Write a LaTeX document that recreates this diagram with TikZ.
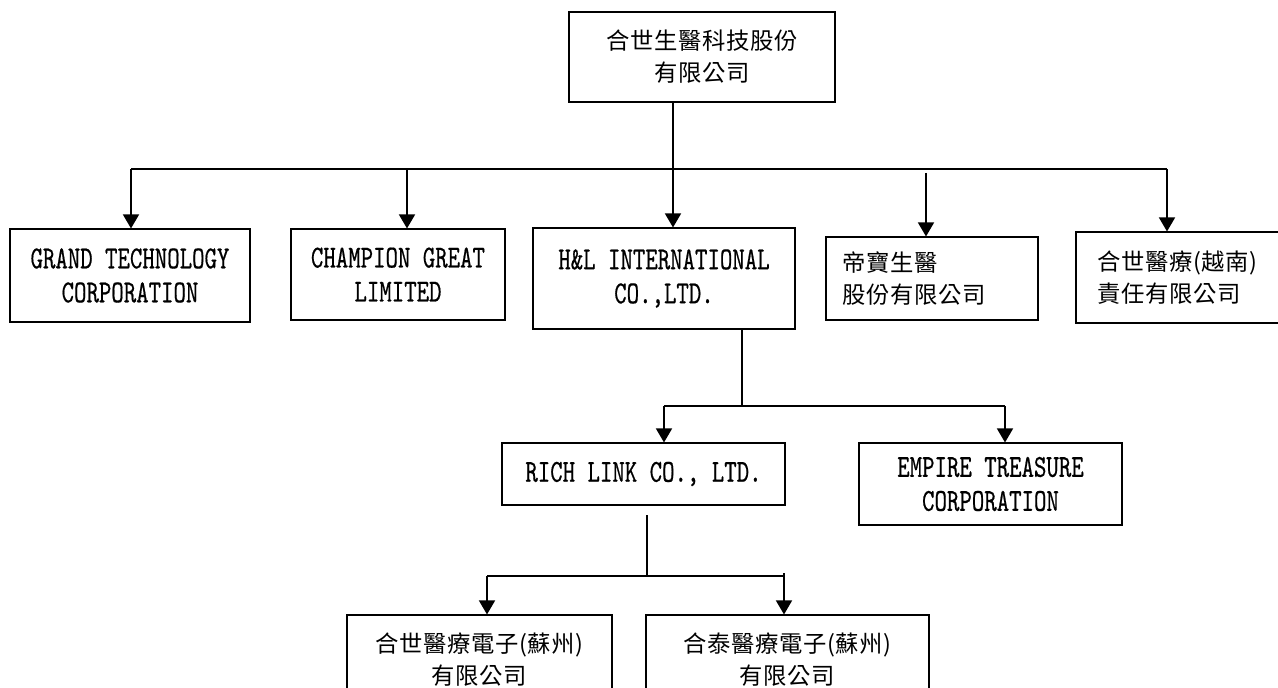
\documentclass[tikz,border=0pt]{standalone}
\usepackage{fontspec}
\usetikzlibrary{arrows.meta}
\newfontfamily\cjk{Noto Sans CJK TC}[LetterSpace=3]
\newfontfamily\latinfnt{lmmono10-regular.otf}[FakeStretch=0.74,FakeBold=0.5]
\tikzset{every picture/.style={line width=0.75pt}}
\tikzset{
  box/.style={draw,line width=0.8pt,inner sep=0pt,align=center},
  cjkbox/.style={box,font=\cjk\fontsize{17.5}{24}\selectfont},
  latbox/.style={box,font=\latinfnt\fontsize{24}{25.5}\selectfont},
  conn/.style={line width=1.1pt},
  arr/.style={conn,-{Triangle[width=12pt,length=10.5pt]}}
}
\begin{document}
\begin{tikzpicture}[x=0.75pt,y=-0.75pt]
				\useasboundingbox (0,0) rectangle (1278,688);
				\clip (0,0) rectangle (1278,688);
				\node[cjkbox,minimum width=199.5pt,minimum height=67.5pt] (top) at (702,57) {合世生醫科技股份\\有限公司}; %母公司
				\node[latbox,minimum width=180pt,minimum height=69.75pt] (grand) at (130,275.5) {GRAND TECHNOLOGY\\CORPORATION};
				\node[latbox,minimum width=160.5pt,minimum height=68.25pt] (champ) at (398,274.5) {CHAMPION GREAT\\LIMITED};
				\node[latbox,minimum width=196.5pt,minimum height=75.75pt] (hl) at (664,278.5) {H\&L INTERNATIONAL\\CO.,LTD.};
				\node[cjkbox,align=left,inner xsep=12pt,text width=135pt,minimum height=62.25pt] (dibao) at (932,278.5) {帝寶生醫\\股份有限公司};
				\node[cjkbox,align=left,inner xsep=15.75pt,text width=129pt,minimum height=68.25pt] (vn) at (1183,277.5) {合世醫療(越南)\\責任有限公司};
				\node[latbox,minimum width=212.25pt,minimum height=46.5pt] (rich) at (643.5,474) {RICH LINK CO., LTD.};
				\node[latbox,minimum width=197.25pt,minimum height=61.5pt] (empire) at (990.5,484) {EMPIRE TREASURE\\CORPORATION};
				\node[cjkbox,minimum width=198.75pt,minimum height=67.5pt] (hsz) at (479.5,660) {合世醫療電子(蘇州)\\有限公司};
				\node[cjkbox,minimum width=212.25pt,minimum height=67.5pt] (htsz) at (787.5,660) {合泰醫療電子(蘇州)\\有限公司};
				%第一層
				\coordinate (bL) at (131,169); \coordinate (bR) at (1167,169);
				\coordinate (hx) at (673,169); \coordinate (cx) at (407,169); \coordinate (dx) at (926,173);
				\draw[conn] (bL) -- (bR); %横線
				\draw[arr] (top.south -| hx) -- (hl.north -| hx);
				\draw[arr] (bL) -- (grand.north -| bL);
				\draw[arr] (cx) -- (champ.north -| cx);
				\draw[arr] (dx) -- (dibao.north -| dx);
				\draw[arr] (bR) -- (vn.north -| bR);
				%第二層
				\coordinate (j1) at (742,406); \coordinate (j1L) at (664,406); \coordinate (j1R) at (1005,406);
				\draw[conn] (hl.south -| j1) -- (j1);
				\draw[conn] (j1L) -- (j1R);
				\draw[arr] (j1L) -- (rich.north -| j1L);
				\draw[arr] (j1R) -- (empire.north -| j1R);
				%第三層
				\coordinate (j2t) at (647,515); \coordinate (j2) at (647,576);
				\coordinate (j2L) at (487,576); \coordinate (j2R) at (784,573);
				\draw[conn] (j2t) -- (j2);
				\draw[conn] (j2L) -- (j2 -| j2R);
				\draw[arr] (j2L) -- (hsz.north -| j2L);
				\draw[arr] (j2R) -- (htsz.north -| j2R);
			\end{tikzpicture}
\end{document}
